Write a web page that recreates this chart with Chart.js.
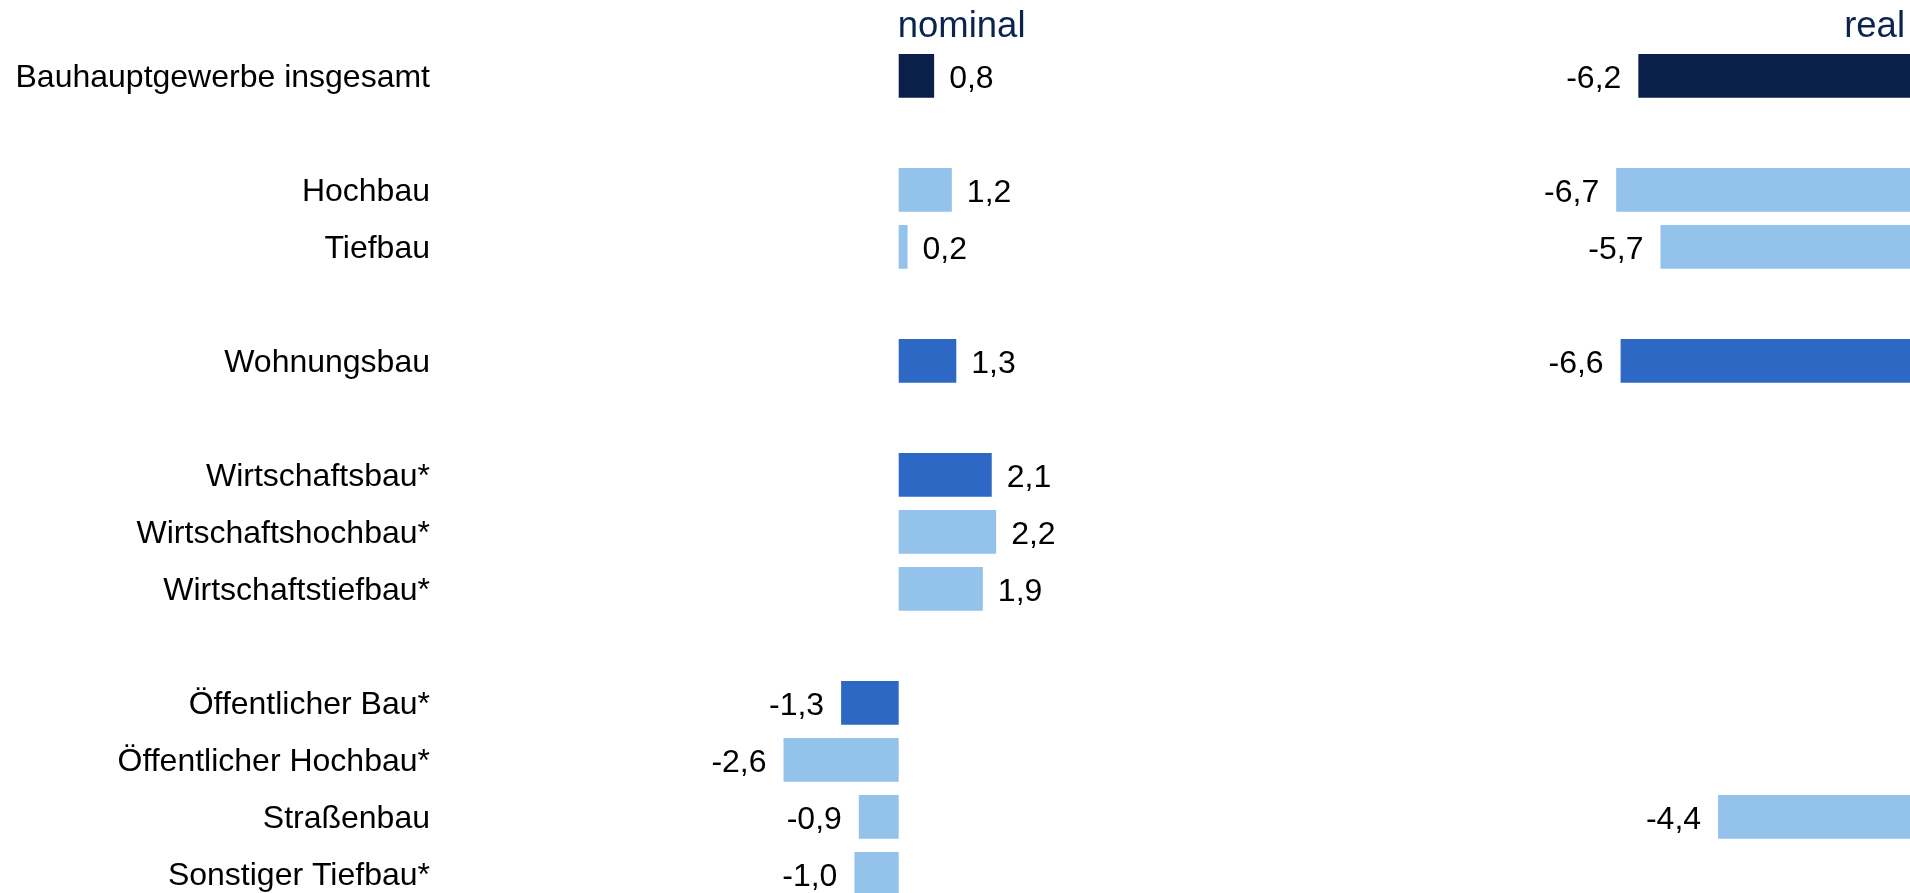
<!DOCTYPE html>
<html>
<head>
<meta charset="utf-8">
<script src="https://cdn.jsdelivr.net/npm/chart.js@4"></script>
<style>
html,body{margin:0;padding:0;background:#fff;overflow:hidden;width:1910px;height:893px;position:relative}
#a{position:absolute;left:0;top:0}
#b{position:absolute;left:1300px;top:0}
</style>
</head>
<body>
<canvas id="a" width="1300" height="903"></canvas>
<canvas id="b" width="620" height="903"></canvas>
<script>
// ---- data ----
const categories = [
  'Bauhauptgewerbe insgesamt', '',
  'Hochbau', 'Tiefbau', '',
  'Wohnungsbau', '',
  'Wirtschaftsbau*', 'Wirtschaftshochbau*', 'Wirtschaftstiefbau*', '',
  'Öffentlicher Bau*', 'Öffentlicher Hochbau*', 'Straßenbau', 'Sonstiger Tiefbau*'
];
const nominal = [0.8, null, 1.2, 0.2, null, 1.3, null, 2.1, 2.2, 1.9, null, -1.3, -2.6, -0.9, -1.0];
const real    = [-6.2, null, -6.7, -5.7, null, -6.6, null, null, null, null, null, null, null, -4.4, null];
const panelTitles = ['nominal', 'real'];

// ---- styles ----
const NAVY = '#0a1f4a', MID = '#2d69c4', LIGHT = '#93c2ea';
const barColors = [NAVY, NAVY, LIGHT, LIGHT, LIGHT, MID, MID, MID, LIGHT, LIGHT, LIGHT, MID, LIGHT, LIGHT, LIGHT];
const TITLE_COLOR = '#0c2352';
const FONT = '"Liberation Sans", Arial, Helvetica, sans-serif';
const PX = 44.3;            // pixels per percentage point
const PAD = {top: 47.35, bottom: 0.65, left: 0, right: 0};

const valuePlugin = {
  id: 'vals',
  afterDatasetsDraw(chart, args, opts) {
    const ctx = chart.ctx;
    const meta = chart.getDatasetMeta(0);
    const data = chart.data.datasets[0].data;
    ctx.save();
    ctx.font = '32px ' + FONT;
    ctx.fillStyle = '#000';
    ctx.textBaseline = 'middle';
    meta.data.forEach((bar, i) => {
      const v = data[i];
      if (v === null || v === undefined) return;
      const txt = v.toFixed(1).replace('.', ',');
      if (v >= 0) {
        ctx.textAlign = 'left';
        ctx.fillText(txt, Math.max(bar.x, bar.base) + 15, bar.y + 3.5);
      } else {
        ctx.textAlign = 'right';
        ctx.fillText(txt, Math.min(bar.x, bar.base) - 17, bar.y + 3.5);
      }
    });
    ctx.font = '36.5px ' + FONT;
    ctx.fillStyle = TITLE_COLOR;
    ctx.textBaseline = 'alphabetic';
    ctx.textAlign = opts.align;
    const x0 = chart.scales.x.getPixelForValue(0);
    ctx.fillText(opts.text, x0 + opts.dx, 37);
    ctx.restore();
  }
};

function makeChart(id, values, xmin, xmax, showLabels, title) {
  return new Chart(document.getElementById(id), {
    type: 'bar',
    data: {
      labels: categories,
      datasets: [{
        data: values,
        backgroundColor: barColors,
        borderWidth: 0,
        barPercentage: 0.767,
        categoryPercentage: 1.0
      }]
    },
    options: {
      indexAxis: 'y',
      responsive: false,
      animation: false,
      devicePixelRatio: 1,
      layout: {padding: PAD},
      plugins: {
        legend: {display: false},
        tooltip: {enabled: false},
        title: {display: false},
        vals: title
      },
      scales: {
        x: {
          type: 'linear',
          min: xmin, max: xmax,
          display: false,
          grid: {display: false}
        },
        y: {
          type: 'category',
          display: showLabels,
          offset: true,
          grid: {display: false, drawTicks: false},
          border: {display: false},
          ticks: {
            font: {family: FONT, size: 32},
            color: '#000',
            padding: 20,
            labelOffset: 2.5,
            autoSkip: false
          },
          afterFit(scale) {
            if (showLabels) scale.width = 450;
            scale.paddingTop = 0;
            scale.paddingBottom = 0;
          }
        }
      }
    },
    plugins: [valuePlugin]
  });
}

// nominal panel: plot area 450..1300 px, zero at 898.7 px
const zeroA = 898.7, leftA = 450, rightA = 1300;
makeChart('a', nominal, -(zeroA - leftA) / PX, (rightA - zeroA) / PX, true,
  {text: panelTitles[0], align: 'left', dx: -1});

// real panel: canvas 1300..1920 px, zero at 1913 px
const zeroB = 1913 - 1300, widthB = 620;
makeChart('b', real, -zeroB / PX, (widthB - zeroB) / PX, false,
  {text: panelTitles[1], align: 'right', dx: -8});
</script>
</body>
</html>
